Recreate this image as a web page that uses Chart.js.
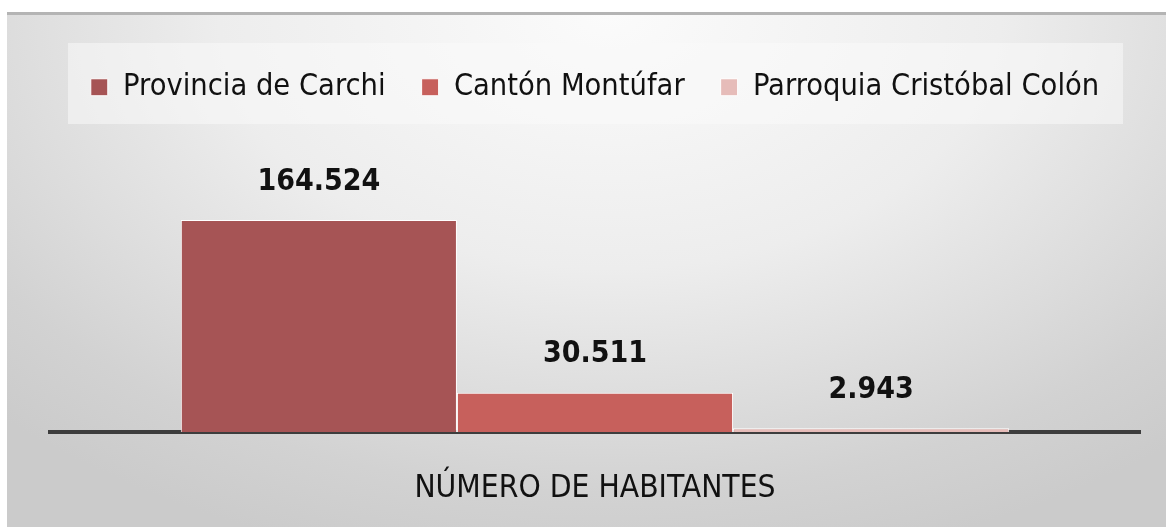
<!DOCTYPE html>
<html>
<head>
<meta charset="utf-8">
<script src="https://cdn.jsdelivr.net/npm/chart.js@4/dist/chart.umd.min.js"></script>
<style>
  html, body { margin: 0; padding: 0; background: #fff; }
  #wrap { position: relative; width: 1166px; height: 528px; overflow: hidden; }
  #frame {
    position: absolute; left: 7px; top: 12px; right: 0; bottom: 1px;
    border-top: 3px solid #b4b4b4;
    background: radial-gradient(ellipse 75% 110% at 52% 0%, #fbfbfb 0%, #ededed 45%, #d2d2d2 85%, #cbcbcb 100%);
  }
  canvas { position: absolute; left: 0; top: 0; }
</style>
</head>
<body>
<div id="wrap">
  <div id="frame"></div>
  <canvas id="chart" width="1166" height="528"></canvas>
</div>
<script>
// Datos del gráfico
const categories = ['NÚMERO DE HABITANTES'];
const seriesNames = ['Provincia de Carchi', 'Cantón Montúfar', 'Parroquia Cristóbal Colón'];
const carchi = [164524];
const montufar = [30511];
const cristobalColon = [2943];

const seriesColors = ['#a65455', '#c7605c', '#e6bcb9'];
const FONT = "'DejaVu Sans Condensed', 'Open Sans', sans-serif";

// separador de miles con punto
const fmt = (v) => String(v).replace(/\B(?=(\d{3})+(?!\d))/g, '.');

// fondo claro detras de la leyenda
const legendBg = {
  id: 'legendBg',
  beforeDraw(chart) {
    const ctx = chart.ctx;
    ctx.save();
    ctx.fillStyle = 'rgba(250, 250, 250, 0.55)';
    ctx.fillRect(68, 43, 1055, 81);
    ctx.restore();
  }
};

// etiquetas de valor sobre las barras
const valueLabels = {
  id: 'valueLabels',
  afterDatasetsDraw(chart) {
    const ctx = chart.ctx;
    ctx.save();
    ctx.font = `bold 30px ${FONT}`;
    ctx.fillStyle = '#111';
    ctx.textAlign = 'center';
    ctx.textBaseline = 'middle';
    chart.data.datasets.forEach((ds, i) => {
      chart.getDatasetMeta(i).data.forEach((bar, j) => {
        ctx.fillText(fmt(ds.data[j]), bar.x, bar.y - 38);
      });
    });
    ctx.restore();
  }
};

new Chart(document.getElementById('chart'), {
  type: 'bar',
  data: {
    labels: categories,
    datasets: [
      { label: seriesNames[0], data: carchi, backgroundColor: seriesColors[0] },
      { label: seriesNames[1], data: montufar, backgroundColor: seriesColors[1] },
      { label: seriesNames[2], data: cristobalColon, backgroundColor: seriesColors[2] }
    ]
  },
  options: {
    responsive: false,
    animation: false,
    layout: { padding: { left: 50, right: 26, top: 36, bottom: 0 } },
    datasets: {
      bar: {
        categoryPercentage: 0.76,
        barPercentage: 1,
        borderColor: '#ffffff',
        borderWidth: 1
      }
    },
    plugins: {
      legend: {
        position: 'top',
        labels: {
          color: '#111',
          font: { family: FONT, size: 30.5 },
          boxWidth: 17,
          boxHeight: 17,
          padding: 36
        }
      },
      tooltip: { enabled: false }
    },
    scales: {
      x: {
        grid: { display: false, drawTicks: false },
        border: { display: true, color: '#3d3d3d', width: 4 },
        ticks: {
          color: '#111',
          font: { family: FONT, size: 31.5 },
          padding: 38
        },
        afterFit(scale) { scale.height = 96; }
      },
      y: {
        display: false,
        min: 0,
        max: 248000
      }
    }
  },
  plugins: [legendBg, valueLabels]
});
</script>
</body>
</html>
